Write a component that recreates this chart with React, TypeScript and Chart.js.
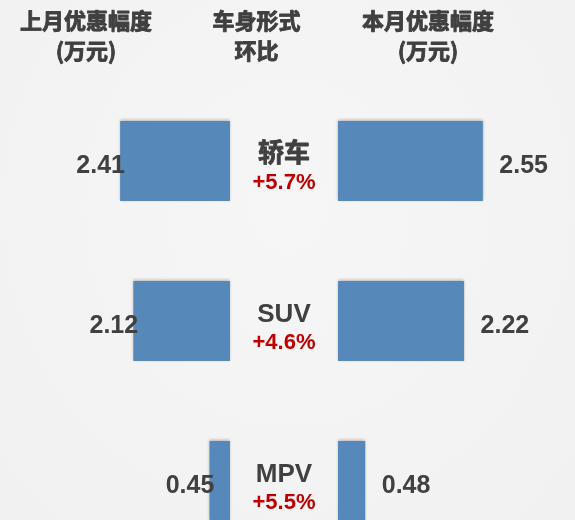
import React, { useEffect, useRef } from 'react';
import { Chart, registerables } from 'chart.js';

Chart.register(...registerables);

// ---- data ----
const categories = ['轿车', 'SUV', 'MPV'];
const lastMonth = [2.41, 2.12, 0.45];
const thisMonth = [2.55, 2.22, 0.48];
const changeLabels = ['+5.7%', '+4.6%', '+5.5%'];
const headerLeft = ['上月优惠幅度', '(万元)'];
const headerMid = ['车身形式', '环比'];
const headerRight = ['本月优惠幅度', '(万元)'];

const BAR_COLOR = '#5689B9';
const TEXT_COLOR = '#404040';
const RED = '#C00000';
const FONT_FAMILY = '"Liberation Sans", "Noto Sans CJK SC", sans-serif';
const CJK_FAMILY = '"Noto Sans CJK SC", "Liberation Sans", sans-serif';

const shadowPlugin = {
  id: 'barShadow',
  beforeDatasetsDraw(chart: any) {
    const ctx = chart.ctx;
    ctx.save();
    ctx.shadowColor = 'rgba(0,0,0,0.28)';
    ctx.shadowBlur = 3;
    ctx.shadowOffsetX = 0;
    ctx.shadowOffsetY = -1;
  },
  afterDatasetsDraw(chart: any) {
    chart.ctx.restore();
  },
};

function heavyText(ctx: any, t: string, x: number, y: number, w: number) {
  ctx.fillText(t, x, y);
  ctx.lineWidth = w;
  ctx.strokeStyle = ctx.fillStyle;
  ctx.lineJoin = 'round';
  ctx.strokeText(t, x, y);
}

const labelPlugin = {
  id: 'butterflyLabels',
  afterDatasetsDraw(chart: any) {
    const ctx = chart.ctx;
    const y = chart.scales.y;
    const xL = chart.scales.xL;
    const xR = chart.scales.xR;
    const midX = (xL.getPixelForValue(0) + xR.getPixelForValue(0)) / 2;
    ctx.save();
    // value labels
    const metaL = chart.getDatasetMeta(0);
    const metaR = chart.getDatasetMeta(1);
    ctx.font = `bold 25px ${FONT_FAMILY}`;
    ctx.fillStyle = TEXT_COLOR;
    ctx.textBaseline = 'alphabetic';
    metaL.data.forEach((bar: any, i: number) => {
      ctx.textAlign = 'center';
      ctx.fillText(lastMonth[i].toFixed(2), bar.x - 19.5, bar.y + 11.5);
    });
    metaR.data.forEach((bar: any, i: number) => {
      ctx.textAlign = 'left';
      ctx.fillText(thisMonth[i].toFixed(2), bar.x + 16.5, bar.y + 11.5);
    });
    // center labels
    categories.forEach((c, i) => {
      const cy = y.getPixelForValue(i);
      ctx.textAlign = 'center';
      ctx.fillStyle = TEXT_COLOR;
      ctx.font = `bold 26px ${FONT_FAMILY}`;
      if (/[\u4e00-\u9fff]/.test(c)) heavyText(ctx, c, midX, cy + 1, 0.8);
      else ctx.fillText(c, midX, cy + 1);
      ctx.fillStyle = RED;
      ctx.font = `bold 22px ${FONT_FAMILY}`;
      ctx.fillText(changeLabels[i], midX, cy + 28);
    });
    // headers
    ctx.fillStyle = TEXT_COLOR;
    ctx.font = `bold 22px ${CJK_FAMILY}`;
    ctx.textAlign = 'center';
    ctx.textBaseline = 'middle';
    const heads: [string[], number][] = [
      [headerLeft, 86],
      [headerMid, 256.5],
      [headerRight, 428],
    ];
    heads.forEach(([lines, hx]) => {
      lines.forEach((t, k) => heavyText(ctx, t, hx, 21 + k * 29.5, 0.9));
    });
    ctx.restore();
  },
};

export default function App() {
  const ref = useRef<HTMLCanvasElement | null>(null);
  useEffect(() => {
    if (!ref.current) return;
    const chart = new Chart(ref.current, {
      type: 'bar',
      data: {
        labels: categories,
        datasets: [
          {
            label: '上月',
            data: lastMonth,
            xAxisID: 'xL',
            backgroundColor: BAR_COLOR,
            grouped: false,
            categoryPercentage: 0.5,
            barPercentage: 1,
          } as any,
          {
            label: '本月',
            data: thisMonth,
            xAxisID: 'xR',
            backgroundColor: BAR_COLOR,
            grouped: false,
            categoryPercentage: 0.5,
            barPercentage: 1,
          } as any,
        ],
      },
      options: {
        indexAxis: 'y',
        animation: false,
        responsive: false,
        maintainAspectRatio: false,
        layout: { padding: { top: 81, left: 0, right: 0, bottom: 0 } },
        plugins: { legend: { display: false }, tooltip: { enabled: false } },
        scales: {
          y: { type: 'category', display: false, offset: true },
          xL: {
            type: 'linear',
            display: false,
            reverse: true,
            min: 5.044 - 575 / 45.6,
            max: 5.044,
          },
          xR: {
            type: 'linear',
            display: false,
            min: -338 / 56.8,
            max: (575 - 338) / 56.8,
          },
        },
      } as any,
      plugins: [shadowPlugin, labelPlugin],
    });
    return () => chart.destroy();
  }, []);
  return (
    <div
      style={{
        position: 'fixed',
        left: 0,
        top: 0,
        width: 575,
        height: 520,
        overflow: 'hidden',
        background: 'radial-gradient(ellipse at 50% 40%, #f6f6f6 0%, #f1f1f1 100%)',
      }}
    >
      <canvas ref={ref} width={575} height={561} style={{ display: 'block', width: 575, height: 561 }} />
    </div>
  );
}
